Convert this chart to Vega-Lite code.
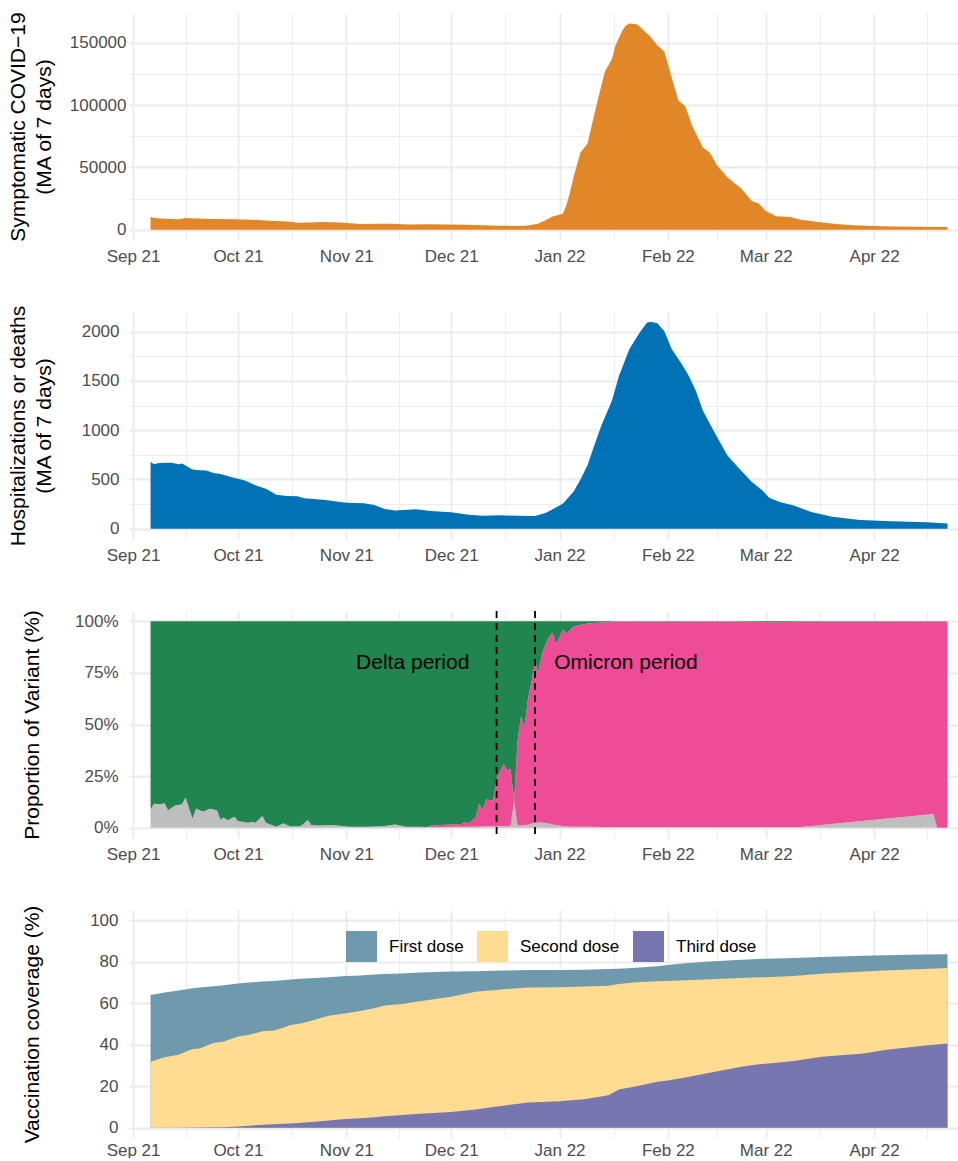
{
  "$schema": "https://vega.github.io/schema/vega-lite/v6.json",
  "background": "white",
  "padding": {"left": 6, "top": 11, "right": 0, "bottom": 0},
  "bounds": "flush",
  "spacing": 72,
  "resolve": {"scale": {"color": "independent"}, "legend": {"color": "independent"}},
  "config": {
    "view": {"stroke": null},
    "font": "Liberation Sans",
    "axis": {"domain": false, "ticks": false, "tickSize": 0, "labelFont": "Liberation Sans", "labelFontSize": 17, "labelColor": "#4D4D4D", "titleFont": "Liberation Sans", "titleFontSize": 21, "titleFontWeight": "normal", "titleColor": "#000000", "gridColor": "#EBEBEB"},
    "axisX": {"labelPadding": 8},
    "axisY": {"titleX": -97, "titleBaseline": "middle", "titleLineHeight": 26, "titleAngle": -90}
  },
  "datasets": {
    "cases": [
      {"date": "2021-09-06", "v": 10400}, {"date": "2021-09-07", "v": 9300}, {"date": "2021-09-09", "v": 8900}, {"date": "2021-09-12", "v": 8500}, {"date": "2021-09-14", "v": 8400}, {"date": "2021-09-16", "v": 9300}, {"date": "2021-09-19", "v": 9000}, {"date": "2021-09-24", "v": 8600}, {"date": "2021-09-30", "v": 8400}, {"date": "2021-10-05", "v": 8000}, {"date": "2021-10-10", "v": 7200}, {"date": "2021-10-15", "v": 6500}, {"date": "2021-10-18", "v": 5600}, {"date": "2021-10-22", "v": 5800}, {"date": "2021-10-25", "v": 6200}, {"date": "2021-10-30", "v": 5700}, {"date": "2021-11-02", "v": 5200}, {"date": "2021-11-05", "v": 4500}, {"date": "2021-11-10", "v": 4700}, {"date": "2021-11-14", "v": 4800}, {"date": "2021-11-19", "v": 4100}, {"date": "2021-11-24", "v": 4300}, {"date": "2021-11-30", "v": 4100}, {"date": "2021-12-05", "v": 3900}, {"date": "2021-12-10", "v": 3600}, {"date": "2021-12-15", "v": 3200}, {"date": "2021-12-19", "v": 3000}, {"date": "2021-12-22", "v": 3200}, {"date": "2021-12-24", "v": 3800}, {"date": "2021-12-26", "v": 5000}, {"date": "2021-12-28", "v": 7500}, {"date": "2021-12-30", "v": 10500}, {"date": "2022-01-01", "v": 12000}, {"date": "2022-01-02", "v": 13000}, {"date": "2022-01-03", "v": 20000}, {"date": "2022-01-04", "v": 30000}, {"date": "2022-01-05", "v": 42000}, {"date": "2022-01-07", "v": 62000}, {"date": "2022-01-09", "v": 69000}, {"date": "2022-01-10", "v": 81000}, {"date": "2022-01-12", "v": 105000}, {"date": "2022-01-14", "v": 127000}, {"date": "2022-01-16", "v": 137000}, {"date": "2022-01-17", "v": 148000}, {"date": "2022-01-19", "v": 160000}, {"date": "2022-01-20", "v": 164000}, {"date": "2022-01-21", "v": 165600}, {"date": "2022-01-23", "v": 165000}, {"date": "2022-01-24", "v": 163000}, {"date": "2022-01-27", "v": 155000}, {"date": "2022-01-29", "v": 148000}, {"date": "2022-01-31", "v": 143000}, {"date": "2022-02-02", "v": 123000}, {"date": "2022-02-04", "v": 104000}, {"date": "2022-02-06", "v": 99000}, {"date": "2022-02-08", "v": 83000}, {"date": "2022-02-11", "v": 66000}, {"date": "2022-02-13", "v": 62000}, {"date": "2022-02-15", "v": 52000}, {"date": "2022-02-18", "v": 42000}, {"date": "2022-02-20", "v": 37500}, {"date": "2022-02-22", "v": 33000}, {"date": "2022-02-25", "v": 23000}, {"date": "2022-02-27", "v": 21000}, {"date": "2022-03-01", "v": 15000}, {"date": "2022-03-04", "v": 10700}, {"date": "2022-03-08", "v": 10200}, {"date": "2022-03-11", "v": 8000}, {"date": "2022-03-16", "v": 6100}, {"date": "2022-03-21", "v": 4600}, {"date": "2022-03-26", "v": 3600}, {"date": "2022-04-03", "v": 2800}, {"date": "2022-04-12", "v": 2400}, {"date": "2022-04-22", "v": 2100}
    ],
    "hosp": [
      {"date": "2021-09-06", "v": 680}, {"date": "2021-09-07", "v": 655}, {"date": "2021-09-08", "v": 665}, {"date": "2021-09-10", "v": 670}, {"date": "2021-09-12", "v": 668}, {"date": "2021-09-14", "v": 655}, {"date": "2021-09-15", "v": 662}, {"date": "2021-09-18", "v": 600}, {"date": "2021-09-20", "v": 594}, {"date": "2021-09-22", "v": 590}, {"date": "2021-09-24", "v": 565}, {"date": "2021-09-26", "v": 555}, {"date": "2021-09-29", "v": 525}, {"date": "2021-10-03", "v": 490}, {"date": "2021-10-06", "v": 440}, {"date": "2021-10-09", "v": 405}, {"date": "2021-10-10", "v": 385}, {"date": "2021-10-12", "v": 345}, {"date": "2021-10-15", "v": 332}, {"date": "2021-10-18", "v": 330}, {"date": "2021-10-20", "v": 310}, {"date": "2021-10-26", "v": 292}, {"date": "2021-11-01", "v": 262}, {"date": "2021-11-06", "v": 258}, {"date": "2021-11-09", "v": 240}, {"date": "2021-11-12", "v": 200}, {"date": "2021-11-15", "v": 185}, {"date": "2021-11-21", "v": 197}, {"date": "2021-11-25", "v": 180}, {"date": "2021-12-01", "v": 166}, {"date": "2021-12-06", "v": 140}, {"date": "2021-12-10", "v": 132}, {"date": "2021-12-15", "v": 135}, {"date": "2021-12-20", "v": 130}, {"date": "2021-12-25", "v": 128}, {"date": "2021-12-28", "v": 160}, {"date": "2021-12-31", "v": 215}, {"date": "2022-01-02", "v": 255}, {"date": "2022-01-05", "v": 375}, {"date": "2022-01-07", "v": 500}, {"date": "2022-01-09", "v": 645}, {"date": "2022-01-11", "v": 850}, {"date": "2022-01-13", "v": 1050}, {"date": "2022-01-16", "v": 1300}, {"date": "2022-01-18", "v": 1550}, {"date": "2022-01-21", "v": 1825}, {"date": "2022-01-24", "v": 1995}, {"date": "2022-01-26", "v": 2090}, {"date": "2022-01-27", "v": 2102}, {"date": "2022-01-29", "v": 2085}, {"date": "2022-01-31", "v": 2005}, {"date": "2022-02-02", "v": 1830}, {"date": "2022-02-05", "v": 1670}, {"date": "2022-02-07", "v": 1550}, {"date": "2022-02-09", "v": 1400}, {"date": "2022-02-11", "v": 1200}, {"date": "2022-02-14", "v": 1000}, {"date": "2022-02-18", "v": 745}, {"date": "2022-02-21", "v": 625}, {"date": "2022-02-25", "v": 475}, {"date": "2022-02-28", "v": 390}, {"date": "2022-03-02", "v": 315}, {"date": "2022-03-05", "v": 270}, {"date": "2022-03-09", "v": 235}, {"date": "2022-03-14", "v": 170}, {"date": "2022-03-20", "v": 120}, {"date": "2022-03-28", "v": 88}, {"date": "2022-04-06", "v": 74}, {"date": "2022-04-16", "v": 64}, {"date": "2022-04-22", "v": 52}
    ],
    "variants": [
      {"date": "2021-09-06", "Other": 0.089, "Omicron": 0, "Delta": 0.911}, {"date": "2021-09-07", "Other": 0.116, "Omicron": 0, "Delta": 0.884}, {"date": "2021-09-09", "Other": 0.113, "Omicron": 0, "Delta": 0.887}, {"date": "2021-09-10", "Other": 0.12, "Omicron": 0, "Delta": 0.88}, {"date": "2021-09-11", "Other": 0.084, "Omicron": 0, "Delta": 0.916}, {"date": "2021-09-13", "Other": 0.108, "Omicron": 0, "Delta": 0.892}, {"date": "2021-09-15", "Other": 0.113, "Omicron": 0, "Delta": 0.887}, {"date": "2021-09-16", "Other": 0.146, "Omicron": 0, "Delta": 0.854}, {"date": "2021-09-18", "Other": 0.045, "Omicron": 0, "Delta": 0.955}, {"date": "2021-09-19", "Other": 0.092, "Omicron": 0, "Delta": 0.908}, {"date": "2021-09-21", "Other": 0.078, "Omicron": 0, "Delta": 0.922}, {"date": "2021-09-23", "Other": 0.092, "Omicron": 0, "Delta": 0.908}, {"date": "2021-09-25", "Other": 0.084, "Omicron": 0, "Delta": 0.916}, {"date": "2021-09-26", "Other": 0.04, "Omicron": 0, "Delta": 0.96}, {"date": "2021-09-27", "Other": 0.049, "Omicron": 0, "Delta": 0.951}, {"date": "2021-09-28", "Other": 0.036, "Omicron": 0, "Delta": 0.964}, {"date": "2021-09-30", "Other": 0.053, "Omicron": 0, "Delta": 0.947}, {"date": "2021-10-01", "Other": 0.032, "Omicron": 0, "Delta": 0.968}, {"date": "2021-10-04", "Other": 0.024, "Omicron": 0, "Delta": 0.976}, {"date": "2021-10-05", "Other": 0.029, "Omicron": 0, "Delta": 0.971}, {"date": "2021-10-06", "Other": 0.024, "Omicron": 0, "Delta": 0.976}, {"date": "2021-10-08", "Other": 0.057, "Omicron": 0, "Delta": 0.943}, {"date": "2021-10-09", "Other": 0.024, "Omicron": 0, "Delta": 0.976}, {"date": "2021-10-12", "Other": 0.005, "Omicron": 0, "Delta": 0.995}, {"date": "2021-10-14", "Other": 0.021, "Omicron": 0, "Delta": 0.979}, {"date": "2021-10-16", "Other": 0.006, "Omicron": 0, "Delta": 0.994}, {"date": "2021-10-19", "Other": 0.008, "Omicron": 0, "Delta": 0.992}, {"date": "2021-10-21", "Other": 0.037, "Omicron": 0, "Delta": 0.963}, {"date": "2021-10-22", "Other": 0.013, "Omicron": 0, "Delta": 0.987}, {"date": "2021-10-24", "Other": 0.011, "Omicron": 0, "Delta": 0.989}, {"date": "2021-10-28", "Other": 0.013, "Omicron": 0, "Delta": 0.987}, {"date": "2021-11-02", "Other": 0.005, "Omicron": 0, "Delta": 0.995}, {"date": "2021-11-07", "Other": 0.005, "Omicron": 0, "Delta": 0.995}, {"date": "2021-11-12", "Other": 0.008, "Omicron": 0, "Delta": 0.992}, {"date": "2021-11-15", "Other": 0.015, "Omicron": 0, "Delta": 0.985}, {"date": "2021-11-18", "Other": 0.004, "Omicron": 0, "Delta": 0.996}, {"date": "2021-11-21", "Other": 0.005, "Omicron": 0, "Delta": 0.995}, {"date": "2021-11-24", "Other": 0.003, "Omicron": 0, "Delta": 0.997}, {"date": "2021-11-25", "Other": 0.003, "Omicron": 0.006, "Delta": 0.991}, {"date": "2021-11-28", "Other": 0.003, "Omicron": 0.01, "Delta": 0.987}, {"date": "2021-12-01", "Other": 0.004, "Omicron": 0.012, "Delta": 0.984}, {"date": "2021-12-04", "Other": 0.004, "Omicron": 0.014, "Delta": 0.982}, {"date": "2021-12-05", "Other": 0.004, "Omicron": 0.025, "Delta": 0.971}, {"date": "2021-12-06", "Other": 0.004, "Omicron": 0.016, "Delta": 0.98}, {"date": "2021-12-08", "Other": 0.005, "Omicron": 0.045, "Delta": 0.95}, {"date": "2021-12-09", "Other": 0.006, "Omicron": 0.11, "Delta": 0.884}, {"date": "2021-12-10", "Other": 0.006, "Omicron": 0.08, "Delta": 0.914}, {"date": "2021-12-11", "Other": 0.007, "Omicron": 0.13, "Delta": 0.863}, {"date": "2021-12-13", "Other": 0.007, "Omicron": 0.125, "Delta": 0.868}, {"date": "2021-12-14", "Other": 0.008, "Omicron": 0.23, "Delta": 0.762}, {"date": "2021-12-16", "Other": 0.008, "Omicron": 0.3, "Delta": 0.692}, {"date": "2021-12-17", "Other": 0.008, "Omicron": 0.27, "Delta": 0.722}, {"date": "2021-12-18", "Other": 0.009, "Omicron": 0.275, "Delta": 0.716}, {"date": "2021-12-19", "Other": 0.13, "Omicron": 0, "Delta": 0.87}, {"date": "2021-12-20", "Other": 0.01, "Omicron": 0.41, "Delta": 0.58}, {"date": "2021-12-21", "Other": 0.01, "Omicron": 0.53, "Delta": 0.46}, {"date": "2021-12-22", "Other": 0.012, "Omicron": 0.48, "Delta": 0.508}, {"date": "2021-12-23", "Other": 0.015, "Omicron": 0.61, "Delta": 0.375}, {"date": "2021-12-24", "Other": 0.02, "Omicron": 0.69, "Delta": 0.29}, {"date": "2021-12-25", "Other": 0.022, "Omicron": 0.78, "Delta": 0.198}, {"date": "2021-12-26", "Other": 0.025, "Omicron": 0.73, "Delta": 0.245}, {"date": "2021-12-27", "Other": 0.025, "Omicron": 0.82, "Delta": 0.155}, {"date": "2021-12-29", "Other": 0.02, "Omicron": 0.905, "Delta": 0.075}, {"date": "2021-12-30", "Other": 0.015, "Omicron": 0.93, "Delta": 0.055}, {"date": "2021-12-31", "Other": 0.012, "Omicron": 0.878, "Delta": 0.11}, {"date": "2022-01-01", "Other": 0.01, "Omicron": 0.914, "Delta": 0.076}, {"date": "2022-01-02", "Other": 0.008, "Omicron": 0.952, "Delta": 0.04}, {"date": "2022-01-03", "Other": 0.006, "Omicron": 0.934, "Delta": 0.06}, {"date": "2022-01-05", "Other": 0.005, "Omicron": 0.971, "Delta": 0.024}, {"date": "2022-01-09", "Other": 0.004, "Omicron": 0.985, "Delta": 0.011}, {"date": "2022-01-13", "Other": 0.003, "Omicron": 0.991, "Delta": 0.006}, {"date": "2022-01-17", "Other": 0.003, "Omicron": 0.996, "Delta": 0.001}, {"date": "2022-02-01", "Other": 0.003, "Omicron": 0.995, "Delta": 0.002}, {"date": "2022-02-15", "Other": 0.003, "Omicron": 0.996, "Delta": 0.001}, {"date": "2022-03-03", "Other": 0.003, "Omicron": 0.993, "Delta": 0.004}, {"date": "2022-03-11", "Other": 0.003, "Omicron": 0.995, "Delta": 0.002}, {"date": "2022-04-18", "Other": 0.066, "Omicron": 0.933, "Delta": 0.001}, {"date": "2022-04-19", "Other": 0, "Omicron": 0.999, "Delta": 0.001}, {"date": "2022-04-22", "Other": 0, "Omicron": 0.999, "Delta": 0.001}
    ],
    "vacc": [
      {"date": "2021-09-06", "first": 64.0, "second": 31.8, "third": 0}, {"date": "2021-09-10", "first": 65.2, "second": 34.0, "third": 0}, {"date": "2021-09-14", "first": 66.2, "second": 35.2, "third": 0}, {"date": "2021-09-18", "first": 67.2, "second": 37.9, "third": 0.05}, {"date": "2021-09-20", "first": 67.6, "second": 38.2, "third": 0.1}, {"date": "2021-09-24", "first": 68.2, "second": 40.8, "third": 0.15}, {"date": "2021-09-27", "first": 68.7, "second": 41.6, "third": 0.2}, {"date": "2021-10-01", "first": 69.5, "second": 44.0, "third": 0.6}, {"date": "2021-10-04", "first": 70.0, "second": 44.7, "third": 0.9}, {"date": "2021-10-08", "first": 70.5, "second": 46.5, "third": 1.4}, {"date": "2021-10-11", "first": 70.8, "second": 46.8, "third": 1.6}, {"date": "2021-10-14", "first": 71.1, "second": 48.2, "third": 1.9}, {"date": "2021-10-16", "first": 71.5, "second": 49.5, "third": 2.0}, {"date": "2021-10-19", "first": 71.8, "second": 50.3, "third": 2.4}, {"date": "2021-10-23", "first": 72.2, "second": 52.1, "third": 2.9}, {"date": "2021-10-27", "first": 72.6, "second": 54.0, "third": 3.4}, {"date": "2021-10-30", "first": 72.9, "second": 54.7, "third": 3.9}, {"date": "2021-11-01", "first": 73.1, "second": 55.2, "third": 4.2}, {"date": "2021-11-05", "first": 73.4, "second": 56.3, "third": 4.5}, {"date": "2021-11-09", "first": 73.9, "second": 57.6, "third": 5.0}, {"date": "2021-11-12", "first": 74.1, "second": 58.9, "third": 5.5}, {"date": "2021-11-17", "first": 74.4, "second": 59.7, "third": 6.1}, {"date": "2021-11-22", "first": 74.8, "second": 61.0, "third": 6.7}, {"date": "2021-12-01", "first": 75.3, "second": 63.2, "third": 7.6}, {"date": "2021-12-08", "first": 75.5, "second": 65.6, "third": 8.8}, {"date": "2021-12-13", "first": 75.7, "second": 66.3, "third": 10.0}, {"date": "2021-12-16", "first": 75.8, "second": 66.8, "third": 10.6}, {"date": "2021-12-23", "first": 76.0, "second": 67.6, "third": 12.1}, {"date": "2022-01-01", "first": 76.0, "second": 67.7, "third": 12.7}, {"date": "2022-01-08", "first": 76.2, "second": 68.1, "third": 13.7}, {"date": "2022-01-15", "first": 76.5, "second": 68.5, "third": 15.6}, {"date": "2022-01-18", "first": 76.7, "second": 69.3, "third": 18.4}, {"date": "2022-01-23", "first": 77.1, "second": 70.2, "third": 20.0}, {"date": "2022-01-29", "first": 77.9, "second": 70.6, "third": 22.1}, {"date": "2022-02-01", "first": 78.5, "second": 70.8, "third": 22.8}, {"date": "2022-02-06", "first": 79.3, "second": 71.1, "third": 24.2}, {"date": "2022-02-13", "first": 80.2, "second": 71.6, "third": 26.5}, {"date": "2022-02-22", "first": 81.0, "second": 72.2, "third": 29.4}, {"date": "2022-02-27", "first": 81.4, "second": 72.5, "third": 30.6}, {"date": "2022-03-01", "first": 81.5, "second": 72.6, "third": 30.8}, {"date": "2022-03-09", "first": 81.9, "second": 73.1, "third": 32.1}, {"date": "2022-03-17", "first": 82.3, "second": 74.2, "third": 34.2}, {"date": "2022-03-29", "first": 82.9, "second": 75.3, "third": 35.8}, {"date": "2022-04-04", "first": 83.2, "second": 75.8, "third": 37.4}, {"date": "2022-04-15", "first": 83.5, "second": 76.5, "third": 39.5}, {"date": "2022-04-22", "first": 83.7, "second": 77.0, "third": 40.6}
    ]
  },
  "vconcat": [
    {
      "width": 830, "height": 227,
      "data": {"name": "cases"},
      "mark": {"type": "area", "color": "#E18727"},
      "encoding": {
        "x": {"field": "date", "type": "temporal", "scale": {"type": "utc", "domain": [{"year": 2021, "month": 8, "date": 30, "hours": 20, "utc": true}, {"year": 2022, "month": 4, "date": 25, "hours": 7, "utc": true}]},
          "axis": {"title": null, "values": [{"year": 2021, "month": 9, "date": 1, "utc": true}, {"year": 2021, "month": 9, "date": 16, "utc": true}, {"year": 2021, "month": 10, "date": 1, "utc": true}, {"year": 2021, "month": 10, "date": 16, "hours": 12, "utc": true}, {"year": 2021, "month": 11, "date": 1, "utc": true}, {"year": 2021, "month": 11, "date": 16, "utc": true}, {"year": 2021, "month": 12, "date": 1, "utc": true}, {"year": 2021, "month": 12, "date": 16, "hours": 12, "utc": true}, {"year": 2022, "month": 1, "date": 1, "utc": true}, {"year": 2022, "month": 1, "date": 16, "hours": 12, "utc": true}, {"year": 2022, "month": 2, "date": 1, "utc": true}, {"year": 2022, "month": 2, "date": 15, "utc": true}, {"year": 2022, "month": 3, "date": 1, "utc": true}, {"year": 2022, "month": 3, "date": 16, "hours": 12, "utc": true}, {"year": 2022, "month": 4, "date": 1, "utc": true}, {"year": 2022, "month": 4, "date": 16, "utc": true}],
            "labelExpr": "utcdate(datum.value) == 1 ? utcFormat(datum.value, '%b %y') : ''",
            "gridWidth": {"condition": {"test": "utcdate(datum.value) == 1", "value": 1.8}, "value": 0.9}}},
        "y": {"field": "v", "type": "quantitative", "scale": {"domain": [-8300, 174000], "nice": false, "zero": false},
          "axis": {"title": ["Symptomatic COVID−19", "(MA of 7 days)"], "titleX": -111, "values": [0, 25000, 50000, 75000, 100000, 125000, 150000], "format": "d", "labelPadding": 3,
            "labelExpr": "datum.value % 50000 == 0 ? datum.label : ''",
            "gridWidth": {"condition": {"test": "datum.value % 50000 == 0", "value": 1.8}, "value": 0.9}}}
      }
    },
    {
      "width": 830, "height": 227,
      "data": {"name": "hosp"},
      "mark": {"type": "area", "color": "#0072B5"},
      "encoding": {
        "x": {"field": "date", "type": "temporal", "scale": {"type": "utc", "domain": [{"year": 2021, "month": 8, "date": 30, "hours": 20, "utc": true}, {"year": 2022, "month": 4, "date": 25, "hours": 7, "utc": true}]},
          "axis": {"title": null, "values": [{"year": 2021, "month": 9, "date": 1, "utc": true}, {"year": 2021, "month": 9, "date": 16, "utc": true}, {"year": 2021, "month": 10, "date": 1, "utc": true}, {"year": 2021, "month": 10, "date": 16, "hours": 12, "utc": true}, {"year": 2021, "month": 11, "date": 1, "utc": true}, {"year": 2021, "month": 11, "date": 16, "utc": true}, {"year": 2021, "month": 12, "date": 1, "utc": true}, {"year": 2021, "month": 12, "date": 16, "hours": 12, "utc": true}, {"year": 2022, "month": 1, "date": 1, "utc": true}, {"year": 2022, "month": 1, "date": 16, "hours": 12, "utc": true}, {"year": 2022, "month": 2, "date": 1, "utc": true}, {"year": 2022, "month": 2, "date": 15, "utc": true}, {"year": 2022, "month": 3, "date": 1, "utc": true}, {"year": 2022, "month": 3, "date": 16, "hours": 12, "utc": true}, {"year": 2022, "month": 4, "date": 1, "utc": true}, {"year": 2022, "month": 4, "date": 16, "utc": true}],
            "labelExpr": "utcdate(datum.value) == 1 ? utcFormat(datum.value, '%b %y') : ''",
            "gridWidth": {"condition": {"test": "utcdate(datum.value) == 1", "value": 1.8}, "value": 0.9}}},
        "y": {"field": "v", "type": "quantitative", "scale": {"domain": [-105, 2200], "nice": false, "zero": false},
          "axis": {"title": ["Hospitalizations or deaths", "(MA of 7 days)"], "titleX": -111, "values": [0, 250, 500, 750, 1000, 1250, 1500, 1750, 2000], "format": "d", "labelPadding": 10,
            "labelExpr": "datum.value % 500 == 0 ? datum.label : ''",
            "gridWidth": {"condition": {"test": "datum.value % 500 == 0", "value": 1.8}, "value": 0.9}}}
      }
    },
    {
      "width": 830, "height": 227,
      "encoding": {
        "x": {"field": "date", "type": "temporal", "scale": {"type": "utc", "domain": [{"year": 2021, "month": 8, "date": 30, "hours": 20, "utc": true}, {"year": 2022, "month": 4, "date": 25, "hours": 7, "utc": true}]},
          "axis": {"title": null, "values": [{"year": 2021, "month": 9, "date": 1, "utc": true}, {"year": 2021, "month": 9, "date": 16, "utc": true}, {"year": 2021, "month": 10, "date": 1, "utc": true}, {"year": 2021, "month": 10, "date": 16, "hours": 12, "utc": true}, {"year": 2021, "month": 11, "date": 1, "utc": true}, {"year": 2021, "month": 11, "date": 16, "utc": true}, {"year": 2021, "month": 12, "date": 1, "utc": true}, {"year": 2021, "month": 12, "date": 16, "hours": 12, "utc": true}, {"year": 2022, "month": 1, "date": 1, "utc": true}, {"year": 2022, "month": 1, "date": 16, "hours": 12, "utc": true}, {"year": 2022, "month": 2, "date": 1, "utc": true}, {"year": 2022, "month": 2, "date": 15, "utc": true}, {"year": 2022, "month": 3, "date": 1, "utc": true}, {"year": 2022, "month": 3, "date": 16, "hours": 12, "utc": true}, {"year": 2022, "month": 4, "date": 1, "utc": true}, {"year": 2022, "month": 4, "date": 16, "utc": true}],
            "labelExpr": "utcdate(datum.value) == 1 ? utcFormat(datum.value, '%b %y') : ''",
            "gridWidth": {"condition": {"test": "utcdate(datum.value) == 1", "value": 1.8}, "value": 0.9}}}
      },
      "layer": [
        {
          "data": {"name": "variants"},
          "transform": [{"fold": ["Other", "Omicron", "Delta"], "as": ["variant", "prop"]}],
          "mark": {"type": "area"},
          "encoding": {
            "y": {"field": "prop", "type": "quantitative", "stack": "zero", "scale": {"domain": [-0.05, 1.05], "nice": false, "zero": false},
              "axis": {"title": "Proportion of Variant (%)", "values": [0, 0.125, 0.25, 0.375, 0.5, 0.625, 0.75, 0.875, 1], "format": ".0%", "labelPadding": 11,
                "labelExpr": "round(datum.value * 8) % 2 == 0 ? datum.label : ''",
                "gridWidth": {"condition": {"test": "round(datum.value * 8) % 2 == 0", "value": 1.8}, "value": 0.9}}},
            "color": {"field": "variant", "type": "nominal", "scale": {"domain": ["Delta", "Omicron", "Other"], "range": ["#20854E", "#EE4C97", "#BEBEBE"]}, "legend": null},
            "order": {"field": "variant", "sort": "descending"}
          }
        },
        {
          "data": {"values": [{"date": "2021-12-14"}, {"date": "2021-12-25"}]},
          "mark": {"type": "rule", "color": "#000000", "strokeWidth": 1.8, "strokeDash": [7, 5]},
          "encoding": {}
        },
        {
          "data": {"values": [{"date": "2021-11-20", "prop": 0.8, "label": "Delta period"}, {"date": "2022-01-20", "prop": 0.8, "label": "Omicron period"}]},
          "mark": {"type": "text", "font": "Liberation Sans", "fontSize": 21, "color": "#000000", "align": "center", "baseline": "middle"},
          "encoding": {
            "y": {"field": "prop", "type": "quantitative", "axis": {"title": "Proportion of Variant (%)"}},
            "text": {"field": "label"}
          }
        }
      ]
    },
    {
      "width": 830, "height": 228,
      "data": {"name": "vacc"},
      "encoding": {
        "x": {"field": "date", "type": "temporal", "scale": {"type": "utc", "domain": [{"year": 2021, "month": 8, "date": 30, "hours": 20, "utc": true}, {"year": 2022, "month": 4, "date": 25, "hours": 7, "utc": true}]},
          "axis": {"title": null, "labelPadding": 4, "values": [{"year": 2021, "month": 9, "date": 1, "utc": true}, {"year": 2021, "month": 9, "date": 16, "utc": true}, {"year": 2021, "month": 10, "date": 1, "utc": true}, {"year": 2021, "month": 10, "date": 16, "hours": 12, "utc": true}, {"year": 2021, "month": 11, "date": 1, "utc": true}, {"year": 2021, "month": 11, "date": 16, "utc": true}, {"year": 2021, "month": 12, "date": 1, "utc": true}, {"year": 2021, "month": 12, "date": 16, "hours": 12, "utc": true}, {"year": 2022, "month": 1, "date": 1, "utc": true}, {"year": 2022, "month": 1, "date": 16, "hours": 12, "utc": true}, {"year": 2022, "month": 2, "date": 1, "utc": true}, {"year": 2022, "month": 2, "date": 15, "utc": true}, {"year": 2022, "month": 3, "date": 1, "utc": true}, {"year": 2022, "month": 3, "date": 16, "hours": 12, "utc": true}, {"year": 2022, "month": 4, "date": 1, "utc": true}, {"year": 2022, "month": 4, "date": 16, "utc": true}],
            "labelExpr": "utcdate(datum.value) == 1 ? utcFormat(datum.value, '%b %y') : ''",
            "gridWidth": {"condition": {"test": "utcdate(datum.value) == 1", "value": 1.8}, "value": 0.9}}}
      },
      "layer": [
        {
          "mark": {"type": "area"},
          "encoding": {
            "y": {"field": "first", "type": "quantitative", "stack": null, "scale": {"domain": [-5, 105], "nice": false, "zero": false},
              "axis": {"title": "Vaccination coverage (%)", "values": [0, 10, 20, 30, 40, 50, 60, 70, 80, 90, 100], "labelPadding": 11,
                "labelExpr": "datum.value % 20 == 0 ? datum.label : ''",
                "gridWidth": {"condition": {"test": "datum.value % 20 == 0", "value": 1.8}, "value": 0.9}}},
            "color": {"datum": "First dose", "scale": {"domain": ["First dose", "Second dose", "Third dose"], "range": ["#6F99AD", "#FFDC91", "#7876B1"]},
              "legend": {"orient": "none", "legendX": 217, "legendY": 21, "direction": "horizontal", "title": null, "symbolType": "square", "symbolSize": 961, "symbolStrokeWidth": 0, "symbolOpacity": 1, "labelFontSize": 17, "labelFont": "Liberation Sans", "labelColor": "#000000", "labelOffset": 12, "columnPadding": 13, "padding": 0}}
          }
        },
        {
          "mark": {"type": "area"},
          "encoding": {
            "y": {"field": "second", "type": "quantitative", "stack": null, "axis": {"title": "Vaccination coverage (%)"}},
            "color": {"datum": "Second dose"}
          }
        },
        {
          "mark": {"type": "area"},
          "encoding": {
            "y": {"field": "third", "type": "quantitative", "stack": null, "axis": {"title": "Vaccination coverage (%)"}},
            "color": {"datum": "Third dose"}
          }
        }
      ]
    }
  ]
}
